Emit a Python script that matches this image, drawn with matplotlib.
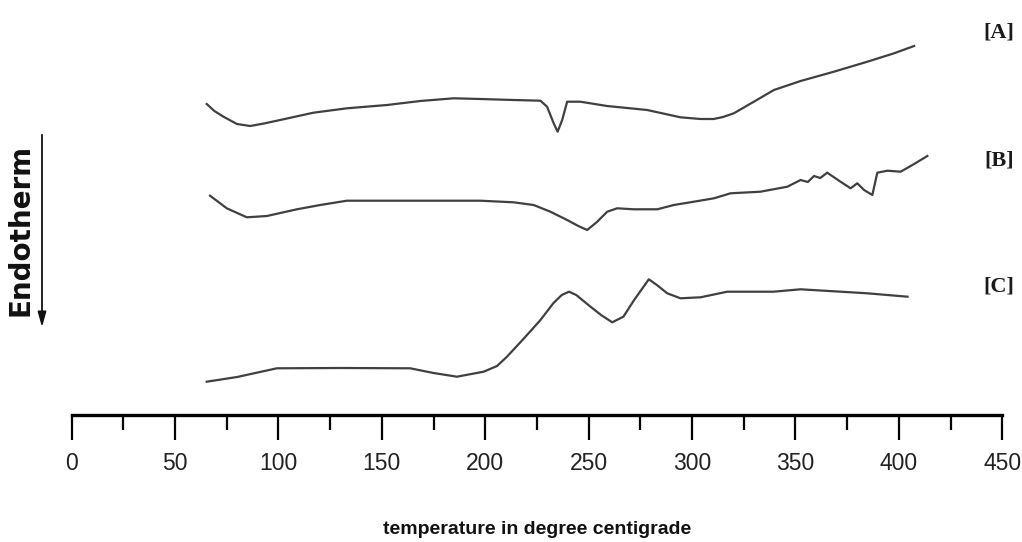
import matplotlib.pyplot as plt
from matplotlib.ticker import MultipleLocator

# temperature (deg C) and signal (arbitrary units, offset per sample)
temp_a = [65.3, 69.0, 73.4, 79.9, 86.3, 93.0, 100.8, 116.9, 133.1, 152.5, 168.6, 184.7,
          197.6, 213.7, 226.7, 229.9, 233.1, 235.0, 237.2, 239.6, 246.0, 258.9,
          278.3, 294.4, 304.1, 310.5, 315.0, 320.2, 329.9, 339.6, 352.5, 368.6,
          384.8, 397.7, 407.4]
sig_a = [311, 304, 298.3, 291, 289, 291.5, 295, 302.3, 306.7, 310, 314, 316.7,
         316, 315, 314.3, 308.3, 291.7, 283.3, 295, 313.3, 313.3, 309,
         305, 297.7, 296, 296, 298, 301.7, 313.3, 325, 334, 343.3,
         353.3, 361.7, 369]

temp_b = [66.9, 75.0, 84.7, 94.4, 108.9, 120.2, 133.1, 165.3, 197.6, 213.7, 223.4,
          231.5, 239.6, 245.0, 249.3, 254.0, 259.0, 263.8, 271.8, 283.2, 291.2,
          300.9, 310.6, 318.6, 333.1, 346.1, 352.5, 356.0, 359.0, 362.0, 365.4,
          371.8, 376.7, 379.9, 383.2, 387.2, 389.6, 394.5, 400.9, 407.4, 413.8]
sig_b = [219.3, 206.7, 197.7, 199, 205.7, 210, 214.3, 214.3, 214.3, 212.7, 210,
         203.3, 195, 189, 185, 193, 203.3, 206.7, 205.7, 205.7, 210,
         213.3, 216.7, 221.7, 223.3, 228.3, 235, 233, 239, 237, 242.3,
         233.3, 226.7, 231.7, 225, 220, 242.3, 244.3, 243.3, 251, 259]

temp_c = [65.3, 80.0, 99.2, 130.0, 163.7, 175.0, 186.3, 199.2, 205.7, 210.5, 218.0,
          226.7, 233.0, 237.0, 240.5, 244.0, 250.9, 256.0, 261.4, 266.8, 272.0,
          279.1, 283.0, 288.0, 294.4, 304.1, 317.0, 339.4, 352.5, 371.9, 384.8, 404.2]
sig_c = [33.3, 38, 46.7, 47, 46.7, 42, 38.3, 43.3, 49, 58.3, 75,
         95, 112, 120, 123.3, 120, 108.3, 100, 92.7, 98.3, 115,
         135.7, 130, 121.7, 116.7, 117.7, 123.3, 123.3, 125.7, 123.3, 121.7, 118.3]

sample_labels = ["[A]", "[B]", "[C]"]
label_pos = [382, 255, 128]

fig = plt.figure(figsize=(10.22, 5.42), dpi=100)
ax = fig.add_axes([71.7 / 1022, 127 / 542, 930.5 / 1022, 415 / 542])

for t, s in [(temp_a, sig_a), (temp_b, sig_b), (temp_c, sig_c)]:
    ax.plot(t, s, color="#404040", lw=1.6, solid_joinstyle="round")

for lab, y in zip(sample_labels, label_pos):
    ax.text(448.5, y, lab, ha="center", va="center", fontsize=16,
            fontweight="bold", family="Liberation Serif", color="#1a1a1a")

ax.set_xlim(0, 450)
ax.set_ylim(0, 415)
for side in ["top", "left", "right"]:
    ax.spines[side].set_visible(False)
ax.spines["bottom"].set_linewidth(2.4)
ax.set_yticks([])
ax.xaxis.set_major_locator(MultipleLocator(50))
ax.xaxis.set_minor_locator(MultipleLocator(25))
ax.tick_params(axis="x", which="major", direction="out", length=18, width=1.6, pad=9)
ax.tick_params(axis="x", which="minor", direction="out", length=11, width=1.6)
for lbl in ax.get_xticklabels():
    lbl.set_family("Liberation Sans")
    lbl.set_fontsize(16.5)
    lbl.set_color("#222222")

fig.text(537 / 1022, 1 - 530 / 542, "temperature in degree centigrade",
         ha="center", va="center", fontsize=14, fontweight="bold",
         family="Liberation Sans", color="#111111")

# endotherm direction
fig.text(21 / 1022, 1 - 230 / 542, "Endotherm", rotation=90, ha="center", va="center",
         fontsize=20, fontweight="bold", family="DejaVu Sans", color="#111111")
ax.annotate("", xy=(42 / 1022, 1 - 330 / 542), xytext=(42 / 1022, 1 - 132 / 542),
            xycoords="figure fraction", textcoords="figure fraction",
            arrowprops=dict(arrowstyle="-|>,head_width=0.25,head_length=0.9",
                            color="#111111", lw=1.3), annotation_clip=False)

fig.savefig("out.png", dpi=100, facecolor="white")
